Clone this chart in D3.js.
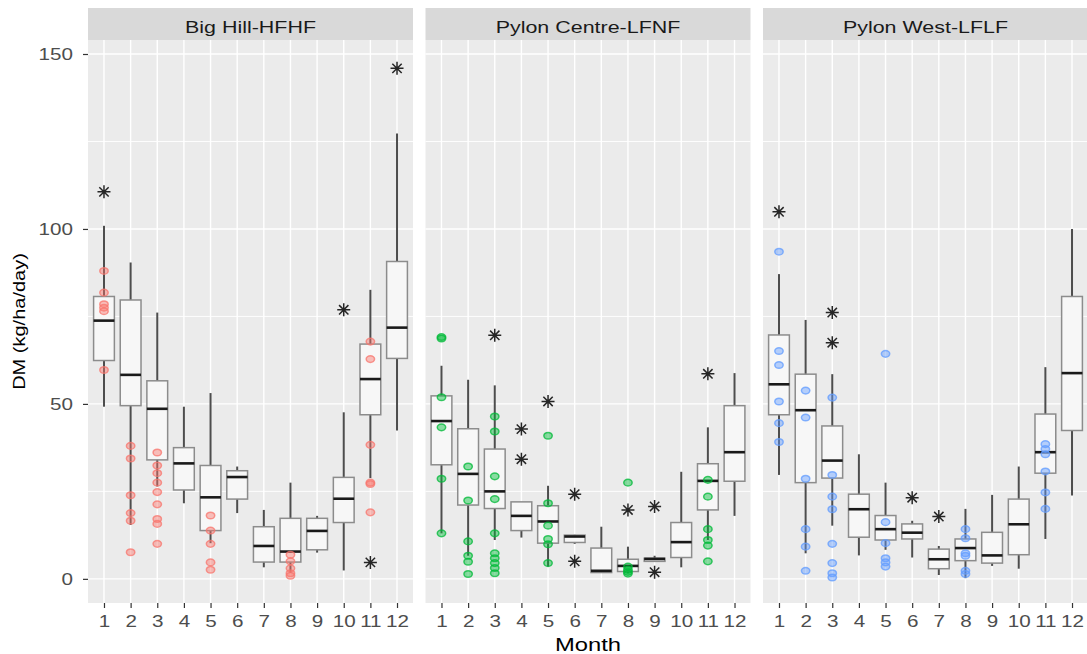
<!DOCTYPE html>
<html>
<head>
<meta charset="utf-8">
<script src="https://cdn.jsdelivr.net/npm/d3@7"></script>
<style>
  body { margin: 0; background: #fff; }
  svg text { font-family: "Liberation Sans", Arial, sans-serif; }
</style>
</head>
<body>
<svg id="chart" width="1087" height="654"></svg>
<script>
const months = [1,2,3,4,5,6,7,8,9,10,11,12];
const sites = ["Big Hill-HFHF", "Pylon Centre-LFNF", "Pylon West-LFLF"];
const siteColors = ["#F8766D", "#00BA38", "#619CFF"];
const yTicks = [0, 50, 100, 150];
const yMinorTicks = [25, 75, 125];

// Big Hill-HFHF
const bhLow  = [49.2, 15.4, 26.4, 21.6, 10.2, 18.8, 3.3, 1.7, 7.5, 2.4, 28.8, 42.4];
const bhQ1   = [62.4, 49.5, 34.0, 25.4, 13.8, 22.8, 4.8, 4.8, 8.3, 16.1, 46.9, 63.0];
const bhMed  = [73.8, 58.3, 48.6, 33.0, 23.3, 29.1, 9.4, 7.8, 13.7, 22.9, 57.1, 71.8];
const bhQ3   = [80.7, 79.7, 56.6, 37.5, 32.4, 30.9, 14.9, 17.3, 17.3, 29.0, 67.1, 90.7];
const bhHigh = [100.9, 90.4, 76.1, 49.2, 53.1, 32.1, 19.7, 27.5, 18.0, 47.6, 82.6, 127.3];
const bhPoints = [
  [88, 81.8, 78.5, 77.5, 76.5, 59.7],
  [38, 34.4, 23.9, 18.8, 16.6, 7.6],
  [36.1, 32.4, 30.2, 27.5, 24.8, 21.3, 17.1, 15.7, 10],
  [],
  [18.1, 13.8, 10, 4.7, 2.6],
  [], [],
  [6.9, 5, 3, 1.6, 0.9],
  [], [],
  [67.8, 62.8, 38.3, 27.5, 27.1, 19],
  []
];
const bhStars = [[1, 110.6], [10, 76.9], [11, 4.7], [12, 145.9]];

// Pylon Centre-LFNF
const pcLow  = [13.0, 6.6, 11.1, 11.8, 3.5, 10.0, 1.8, 1.6, 5.0, 3.3, 11.1, 18.0];
const pcQ1   = [32.6, 21.1, 20.1, 13.8, 10.2, 10.4, 1.8, 2.1, 5.0, 6.1, 19.7, 27.9];
const pcMed  = [45.1, 30.0, 25.0, 18.0, 16.4, 12.1, 2.3, 3.7, 5.7, 10.5, 28.0, 36.2];
const pcQ3   = [52.3, 42.9, 37.1, 22.0, 20.9, 12.5, 8.8, 5.6, 5.9, 16.1, 32.9, 49.5];
const pcHigh = [60.9, 56.9, 55.3, 22.0, 26.6, 12.6, 14.9, 9.2, 6.6, 30.6, 43.3, 58.8];
const pcPoints = [
  [69.1, 68.7, 51.9, 43.3, 28.6, 13],
  [32.1, 22.4, 10.7, 6.6, 4.9, 1.4],
  [46.4, 42.1, 29.3, 22.8, 13, 7.3, 5.9, 4.5, 3.1, 1.6],
  [],
  [40.9, 21.6, 15.2, 11.4, 9.9, 4.5],
  [], [],
  [27.5, 3.5, 2.6, 2.0, 1.5],
  [], [],
  [28.3, 23.5, 14.2, 11.1, 9.5, 5],
  []
];
const pcStars = [[3, 69.6], [4, 42.8], [4, 34.2], [5, 50.7], [6, 24.2], [6, 5], [8, 19.7], [9, 20.7], [9, 1.9], [11, 58.6]];

// Pylon West-LFLF
const pwLow  = [29.7, 7.3, 15.2, 6.7, 8.3, 6.1, 1.1, 0.2, 3.7, 2.9, 11.4, 23.8];
const pwQ1   = [46.9, 27.5, 28.8, 11.9, 11.1, 11.4, 2.9, 5.2, 4.5, 6.9, 30.2, 42.4];
const pwMed  = [55.6, 48.2, 33.8, 19.9, 14.2, 13.2, 5.6, 8.8, 6.7, 15.6, 36.2, 58.8];
const pwQ3   = [69.7, 58.5, 43.7, 24.2, 18.1, 15.7, 8.5, 11.4, 13.3, 22.8, 47.1, 80.7];
const pwHigh = [87.1, 74.0, 58.5, 35.6, 27.5, 16.6, 9.4, 20.0, 24.0, 32.1, 60.5, 100.0];
const pwPoints = [
  [93.5, 65.1, 61.1, 50.7, 44.5, 39.1],
  [53.8, 46.1, 28.6, 14.2, 9.2, 2.3],
  [51.8, 29.7, 23.5, 19.9, 10, 4.5, 1.6, 0.4],
  [],
  [64.3, 16.2, 10.2, 5.9, 4.7, 3.5],
  [], [],
  [14.2, 11.6, 7.3, 6.6, 2.3, 1.4],
  [], [],
  [38.5, 37.1, 35.6, 30.7, 24.7, 20],
  []
];
const pwStars = [[1, 104.9], [3, 76.1], [3, 67.5], [6, 23.2], [7, 17.8]];

const panels = [
  {low: bhLow, q1: bhQ1, med: bhMed, q3: bhQ3, high: bhHigh, points: bhPoints, stars: bhStars},
  {low: pcLow, q1: pcQ1, med: pcMed, q3: pcQ3, high: pcHigh, points: pcPoints, stars: pcStars},
  {low: pwLow, q1: pwQ1, med: pwMed, q3: pwQ3, high: pwHigh, points: pwPoints, stars: pwStars}
];

var margin = {top: 40, left: 88, bottom: 51},
    panelW = 325, gap = 12.5, stripH = 32,
    height = 654 - margin.top - margin.bottom;
var stretch = 1.25;

var svg = d3.select("#chart");

var y = d3.scaleLinear().domain([-6.9, 154]).range([height, 0]);
var x = d3.scalePoint().domain(months).range([0, panelW]).padding(0.6);
var boxW = x.step() * 0.78;

// asterisk like ggplot shape 8
function star(cx, cy) {
  var r = 6.5, d = r * 0.72;
  return "M" + (cx - r) + "," + cy + "H" + (cx + r) +
         "M" + cx + "," + (cy - r) + "V" + (cy + r) +
         "M" + (cx - d) + "," + (cy - d) + "L" + (cx + d) + "," + (cy + d) +
         "M" + (cx - d) + "," + (cy + d) + "L" + (cx + d) + "," + (cy - d);
}

panels.forEach(function(p, i) {
  var left = margin.left + i * (panelW + gap);
  var g = svg.append("g").attr("transform", "translate(" + left + "," + margin.top + ")");
  var col = siteColors[i];

  // strip
  svg.append("rect")
    .attr("x", left).attr("y", margin.top - stripH)
    .attr("width", panelW).attr("height", stripH)
    .attr("fill", "#D9D9D9");
  svg.append("text")
    .attr("transform", "translate(" + (left + panelW / 2) + "," + (margin.top - 7.5) + ") scale(1.3,1)")
    .attr("text-anchor", "middle")
    .attr("font-size", "16.5px")
    .attr("fill", "#1A1A1A")
    .text(sites[i]);

  g.append("rect").attr("width", panelW).attr("height", height).attr("fill", "#EBEBEB");

  g.selectAll(".minor").data(yMinorTicks).enter().append("line")
    .attr("x1", 0).attr("x2", panelW)
    .attr("y1", d => y(d)).attr("y2", d => y(d))
    .attr("stroke", "#fff").attr("stroke-width", 0.9);
  g.selectAll(".major").data(yTicks).enter().append("line")
    .attr("x1", 0).attr("x2", panelW)
    .attr("y1", d => y(d)).attr("y2", d => y(d))
    .attr("stroke", "#fff").attr("stroke-width", 1.4);
  g.selectAll(".vgrid").data(months).enter().append("line")
    .attr("x1", d => x(d)).attr("x2", d => x(d))
    .attr("y1", 0).attr("y2", height)
    .attr("stroke", "#fff").attr("stroke-width", 1.4);

  // whiskers
  g.selectAll(".whisker").data(months).enter().append("line")
    .attr("x1", d => x(d)).attr("x2", d => x(d))
    .attr("y1", (d, k) => y(p.low[k])).attr("y2", (d, k) => y(p.high[k]))
    .attr("stroke", "#4D4D4D").attr("stroke-width", 2);

  // boxes
  g.selectAll(".box").data(months).enter().append("rect")
    .attr("x", d => x(d) - boxW / 2)
    .attr("width", boxW)
    .attr("y", (d, k) => y(p.q3[k]))
    .attr("height", (d, k) => Math.max(0.5, y(p.q1[k]) - y(p.q3[k])))
    .attr("fill", "#F7F7F7")
    .attr("stroke", "#8C8C8C").attr("stroke-width", 1.5);

  g.selectAll(".median").data(months).enter().append("line")
    .attr("x1", d => x(d) - boxW / 2).attr("x2", d => x(d) + boxW / 2)
    .attr("y1", (d, k) => y(p.med[k])).attr("y2", (d, k) => y(p.med[k]))
    .attr("stroke", "#1A1A1A").attr("stroke-width", 2.6);

  // raw points
  var pts = [];
  p.points.forEach(function(vals, k) {
    vals.forEach(v => pts.push({m: months[k], v: v}));
  });
  g.selectAll(".pt").data(pts).enter().append("ellipse")
    .attr("cx", d => x(d.m)).attr("cy", d => y(d.v))
    .attr("rx", 4.2).attr("ry", 3.3)
    .attr("fill", col).attr("fill-opacity", 0.45)
    .attr("stroke", col).attr("stroke-opacity", 0.75).attr("stroke-width", 1.5);

  // outliers
  g.selectAll(".star").data(p.stars).enter().append("path")
    .attr("d", d => star(x(d[0]), y(d[1])))
    .attr("stroke", "#262626").attr("stroke-width", 1.5).attr("fill", "none");

  // x axis
  var xAxis = g.append("g")
    .attr("transform", "translate(0," + height + ")")
    .call(d3.axisBottom(x).tickSize(5).tickPadding(7));
  xAxis.select(".domain").remove();
  xAxis.selectAll("line").attr("stroke", "#333").attr("stroke-width", 1.2);
  xAxis.selectAll("text")
    .attr("font-size", "16.5px")
    .attr("fill", "#4D4D4D")
    .attr("transform", "scale(" + stretch + ",1)");

  if (i === 0) {
    var yAxis = g.append("g")
      .call(d3.axisLeft(y).tickValues(yTicks).tickSize(5).tickPadding(7));
    yAxis.select(".domain").remove();
    yAxis.selectAll("line").attr("stroke", "#333").attr("stroke-width", 1.2);
    yAxis.selectAll("text")
      .attr("font-size", "16.5px")
      .attr("fill", "#4D4D4D")
      .attr("transform", "scale(" + stretch + ",1)");
  }
});

// axis titles
svg.append("text")
  .attr("transform", "translate(" + (margin.left + (3 * panelW + 2 * gap) / 2) + ",651) scale(" + stretch + ",1)")
  .attr("text-anchor", "middle")
  .attr("font-size", "19px")
  .attr("fill", "#000")
  .text("Month");

svg.append("text")
  .attr("transform", "translate(25," + (margin.top + height / 2) + ") rotate(-90) scale(" + stretch + ",1)")
  .attr("text-anchor", "middle")
  .attr("font-size", "16px")
  .attr("fill", "#000")
  .text("DM (kg/ha/day)");
</script>
</body>
</html>
